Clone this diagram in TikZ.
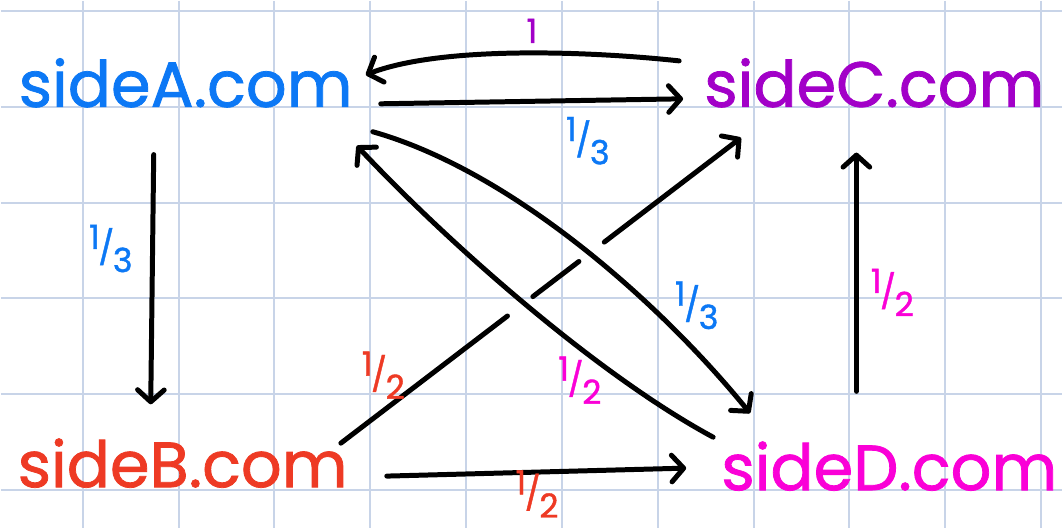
\documentclass[tikz,border=0pt]{standalone}
\usepackage{fontspec}
\newfontfamily\handfont[FakeBold=1.2]{Poppins}
\usetikzlibrary{arrows.meta,calc}

\definecolor{gridcol}{RGB}{200,212,232}
\definecolor{siteA}{RGB}{12,120,245}
\definecolor{siteB}{RGB}{238,58,36}
\definecolor{siteC}{RGB}{162,0,200}
\definecolor{siteD}{RGB}{250,0,215}

\newcommand\frc[2]{\raisebox{0.32em}{#1}\kern-0.04em/\kern-0.04em\raisebox{-0.38em}{#2}}

\begin{document}
\begin{tikzpicture}[x=0.75pt,y=-0.75pt,
  site/.style={inner sep=0pt,font=\handfont\fontsize{48}{48}\selectfont},
  wt/.style={inner sep=0pt,font=\handfont\fontsize{25}{25}\selectfont},
  link/.style={line width=3.75pt,line cap=round,
    -{Straight Barb[length=9pt,width=20pt,line cap=round,line join=round]}}]
  \fill[white] (0,0) rectangle (1063,528);
  \foreach \x in {82,178,...,1042}
    \draw[gridcol,line width=1.5pt] (\x,0) -- (\x,528);
  \foreach \y in {10,106,...,490}
    \draw[gridcol,line width=1.5pt] (0,\y) -- (1063,\y);
  \useasboundingbox (0,0) rectangle (1063,528);

  \node[site,text=siteA] (A) at (185,82) {sideA.com};
  \node[site,text=siteC] (C) at (875,82) {sideC.com};
  \node[site,text=siteB] (B) at (182,463) {sideB.com};
  \node[site,text=siteD] (D) at (890,466) {sideD.com};

  \draw[link] ($(C.west)+(-25,-22)$) .. controls ($(C.west)+(-118,-32)$)
    and ($(A.east)+(88,-37)$) .. ($(A.east)+(13,-8)$);
  \draw[link] ($(A.east)+(28,21)$) -- ($(C.west)+(-21,16)$);
  \draw[link] ($(A.south)+(-32,47)$) -- ($(B.north)+(-32,-34)$);
  \draw[link] ($(D.north)+(-33,-50)$) -- ($(C.south)+(-18,45)$);
  \draw[link] ($(B.east)+(39,13)$) -- ($(D.west)+(-35,2)$);
  \draw[link,dash pattern=on 157.5pt off 24pt on 43.5pt off 24pt on 300pt]
    ($(B.east)+(-7,-20)$) -- ($(C.west)+(37,55)$);
  \draw[link] ($(A.east)+(20,49)$) .. controls ($(A.east)+(158,88)$)
    and ($(D.west)+(-63,-166)$) .. ($(D.west)+(29,-53)$);
  \draw[link] ($(D.west)+(-8,-29)$) .. controls ($(D.west)+(-123,-91)$)
    and ($(A.east)+(98,163)$) .. ($(A.east)+(4,63)$);

  \node[wt,text=siteC] (wCA) at (532,30) {1};
  \node[wt,text=siteA] (wAC) at (588,140) {\frc{1}{3}};
  \node[wt,text=siteA] (wAB) at (110,248) {\frc{1}{3}};
  \node[wt,text=siteD] (wDC) at (893,292) {\frc{1}{2}};
  \node[wt,text=siteB] (wBD) at (537,494) {\frc{1}{2}};
  \node[wt,text=siteB] (wBC) at (383,375) {\frc{1}{2}};
  \node[wt,text=siteA] (wAD) at (697,305) {\frc{1}{3}};
  \node[wt,text=siteD] (wDA) at (580,380) {\frc{1}{2}};
\end{tikzpicture}
\end{document}
